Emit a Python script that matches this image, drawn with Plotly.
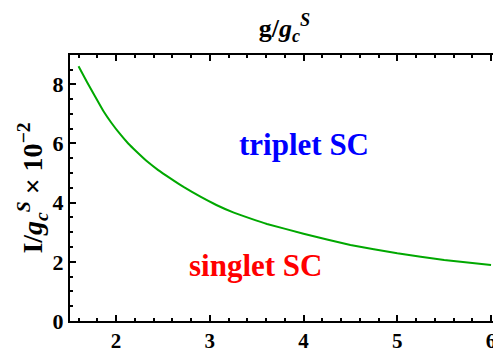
import plotly.graph_objects as go

# data
g_ratio = [1.60, 1.69, 1.78, 1.87, 1.95, 2.04, 2.13, 2.22, 2.34, 2.45, 2.58, 2.72, 2.90, 3.07, 3.25, 3.43, 3.61,
           4.0, 4.5, 5.0, 5.5, 6.0]
I_vals  = [8.61, 8.08, 7.57, 7.07, 6.70, 6.33, 6.00, 5.72, 5.37, 5.10, 4.82, 4.53, 4.20, 3.92, 3.67, 3.47, 3.28,
           2.95, 2.57, 2.29, 2.06, 1.89]

x_ticks = [2, 3, 4, 5, 6]
y_ticks = [0, 2, 4, 6, 8]

FONT = "Liberation Serif"
x_range = [1.509, 6.085]
y_range = [0, 8.99]

fig = go.Figure()
fig.add_trace(go.Scatter(x=g_ratio, y=I_vals, mode="lines", line=dict(color="rgb(0,168,0)", width=2),
                         line_shape="spline", line_smoothing=0.3, showlegend=False))
# invisible trace for the mirrored axes
fig.add_trace(go.Scatter(x=[None], y=[None], xaxis="x2", yaxis="y2", showlegend=False))

common = dict(showline=True, linecolor="black", linewidth=2, ticks="inside", ticklen=6, tickwidth=1.5,
              tickcolor="black", showgrid=False, zeroline=False, automargin=False)

# page body has an 8px margin, so the figure is 8px smaller than the window
fig.update_layout(
    width=493, height=344,
    margin=dict(l=62, r=2, t=47, b=31),
    plot_bgcolor="white", paper_bgcolor="white",
    xaxis=dict(range=x_range, tickvals=x_ticks, ticktext=[str(v) for v in x_ticks],
               minor=dict(dtick=0.2, tick0=0, ticks="inside", ticklen=3, tickcolor="black"),
               tickfont=dict(family=FONT, size=21, color="black", weight="bold"), **common),
    yaxis=dict(range=y_range, tickvals=y_ticks, ticktext=[str(v) for v in y_ticks],
               minor=dict(dtick=0.5, tick0=0, ticks="inside", ticklen=3, tickcolor="black"),
               tickfont=dict(family=FONT, size=22, color="black", weight="bold"),
               title=dict(text="<b>I/<i>g</i><sub><i>c</i></sub><sup><i>S</i></sup> × 10<sup>−2</sup></b>",
                          font=dict(family=FONT, size=28, color="black"), standoff=2),
               **common),
    xaxis2=dict(overlaying="x", side="top", range=x_range, tickvals=x_ticks, showticklabels=False,
                minor=dict(dtick=0.2, tick0=0, ticks="inside", ticklen=3, tickcolor="black"),
                title=dict(text="<b>g/<i>g</i><sub><i>c</i></sub><sup><i>S</i></sup></b>",
                           font=dict(family=FONT, size=26, color="black"), standoff=8),
                **common),
    yaxis2=dict(overlaying="y", side="right", range=y_range, tickvals=y_ticks, showticklabels=False,
                minor=dict(dtick=0.5, tick0=0, ticks="inside", ticklen=3, tickcolor="black"),
                **common),
)

fig.add_annotation(x=4.0, y=5.95, text="<b>triplet SC</b>", showarrow=False,
                   font=dict(family=FONT, size=31, color="rgb(0,0,255)"))
fig.add_annotation(x=3.49, y=1.86, text="<b>singlet SC</b>", showarrow=False,
                   font=dict(family=FONT, size=31, color="rgb(255,0,0)"))

fig.write_html("out.html")
